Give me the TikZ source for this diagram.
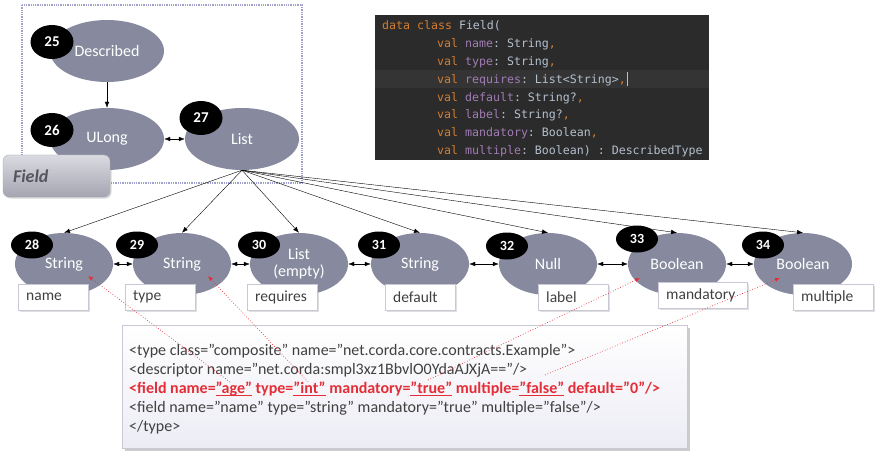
\documentclass[tikz,border=0pt]{standalone}
\usepackage{fontspec}
\setmainfont{Carlito}
\setmonofont{DejaVu Sans Mono}
\usetikzlibrary{arrows.meta,shapes.geometric,shadows,positioning}

\definecolor{nodegray}{RGB}{135,138,158}
\definecolor{boxline}{RGB}{200,200,215}
\definecolor{textgray}{RGB}{64,64,64}
\definecolor{xmlred}{RGB}{228,45,55}
\definecolor{codebg}{RGB}{43,43,43}
\definecolor{codehl}{RGB}{52,52,52}
\definecolor{kwcol}{RGB}{210,125,50}
\definecolor{propcol}{RGB}{160,124,180}
\definecolor{codetxt}{RGB}{180,192,206}
\definecolor{framecol}{RGB}{160,160,205}

\newcommand\codekw[1]{\textcolor{kwcol}{#1}}
\newcommand\codeprop[1]{\textcolor{propcol}{#1}}
\newcommand\hilite[1]{\setbox0\hbox{#1}\rlap{\rule[-3pt]{\wd0}{1.6pt}}\box0\relax}

\tikzset{
  tnode/.style={ellipse, fill=nodegray, text=white, minimum width=98pt, minimum height=62pt,
    inner sep=0pt, align=center, font=\fontsize{16}{17}\selectfont},
  topnode/.style={tnode, minimum width=114pt},
  badge/.style={ellipse, fill=black, text=white, minimum width=42pt, minimum height=27pt,
    inner sep=0pt, font=\bfseries\fontsize{14}{15}\selectfont},
  bigbadge/.style={badge, minimum width=43pt, minimum height=34pt, font=\bfseries\fontsize{15}{16}\selectfont},
  namebox/.style={draw=boxline, fill=white, text=textgray, anchor=west, minimum height=26pt,
    inner xsep=8pt, text width=54pt, align=left, font=\fontsize{15.5}{16}\selectfont,
    drop shadow={shadow xshift=1.5pt, shadow yshift=-1.5pt, opacity=0.25}},
  link/.style={-{Latex[length=6pt,width=4.5pt]}},
  twoway/.style={{Latex[length=6pt,width=4.5pt]}-{Latex[length=6pt,width=4.5pt]}},
  hint/.style={xmlred, dotted, line width=0.7pt, -{Latex[length=5pt,width=4pt]}},
  codeline/.style={anchor=base west, inner sep=0pt, text=codetxt, font=\ttfamily\fontsize{11.6}{12}\selectfont},
  xmlline/.style={anchor=base west, inner sep=0pt, text=textgray, font=\fontsize{16}{17}\selectfont}
}

\begin{document}
\begin{tikzpicture}[x=1pt, y=-1pt]
    \path[use as bounding box, fill=white] (0,0) rectangle (880,457);
    % Dotted frame round the Field type
    \draw[framecol, densely dotted, line width=1.3pt] (22,5) rectangle (302,183);
    % Top three nodes
    \node[topnode] (described) at (107,51) {Described};
    \node[topnode] (ulong) at (107,139) {ULong};
    \node[topnode] (list) at (242,139) {List};
    \node[bigbadge] (b25) at (52,42) {25};
    \node[bigbadge] (b26) at (52,130) {26};
    \node[bigbadge] (b27) at (201,118) {27};
    \draw[link] (described) -- (ulong);
    \draw[twoway] (ulong) -- (list);
    % Field tag
    \node[draw={rgb,255:red,170;green,170;blue,180}, rounded corners=6pt, top color={rgb,255:red,218;green,218;blue,225},
      bottom color={rgb,255:red,165;green,165;blue,178}, minimum width=107pt, minimum height=42pt,
      text width=87pt, align=left, text={rgb,255:red,85;green,85;blue,95},
      font=\bfseries\itshape\fontsize{18}{19}\selectfont,
      drop shadow={shadow xshift=1.5pt, shadow yshift=-1.5pt, opacity=0.3}] (fieldtag) at (56.5,176) {Field};
    % Code of the data class
    \fill[codebg] (375,15) rectangle (709,160);
    \fill[codehl] (375,70) rectangle (709,88);
    \node[codeline] (c0) at (382,30) {\codekw{data class }Field(};
    \node[codeline] (c1) at (437,47.8) {\codekw{val }\codeprop{name}: String\codekw{,}};
    \node[codeline] (c2) at (437,65.6) {\codekw{val }\codeprop{type}: String\codekw{,}};
    \node[codeline] (c3) at (437,83.4) {\codekw{val }\codeprop{requires}: List<String>\codekw{,}};
    \node[codeline] (c4) at (437,101.2) {\codekw{val }\codeprop{default}: String?\codekw{,}};
    \node[codeline] (c5) at (437,119) {\codekw{val }\codeprop{label}: String?\codekw{,}};
    \node[codeline] (c6) at (437,136.8) {\codekw{val }\codeprop{mandatory}: Boolean\codekw{,}};
    \node[codeline] (c7) at (437,154.6) {\codekw{val }\codeprop{multiple}: Boolean) : DescribedType};
    \draw[codetxt, line width=0.8pt] (c3.base east) ++(1.5,3) -- ++(0,-14);
    % Bottom row of nodes
    \foreach \n/\x/\txt in {28/64/String, 29/182/String, 30/299/{List\\(empty)}, 31/420/String,
        32/548/Null, 33/677/Boolean, 34/803/Boolean} {
        \node[tnode] (s\n) at (\x,264) {\txt};
        \draw[link] (list.south) -- (s\n.north);
    }
    \foreach \a/\b in {28/29, 29/30, 30/31, 31/32, 32/33, 33/34}
        \draw[twoway] (s\a) -- (s\b);
    \foreach \n/\x/\y in {28/32/245, 29/137/245, 30/259/245, 31/379/245, 32/507/246, 33/637/239, 34/763/245}
        \node[badge] (b\n) at (\x,\y) {\n};
    % Field names under the nodes
    \foreach \n/\x/\txt in {28/18/name, 29/125/type, 30/247/requires, 31/385/default, 32/538/label}
        \node[namebox] (l\n) at (\x,297) {\txt};
    \node[namebox, text width=73pt] (l33) at (658,295) {mandatory};
    \node[namebox, text width=64pt] (l34) at (793,297) {multiple};
    % Schema box
    \fill[black, opacity=0.2] (125,328) rectangle (690,451);
    \draw[boxline, top color=white, bottom color={rgb,255:red,236;green,236;blue,245}] (122,325) rectangle (687,448);
    \node[xmlline] (x1) at (129,355) {<type class="composite" name="net.corda.core.contracts.Example">};
    \node[xmlline] (x2) at (129,374.2) {<descriptor name="net.corda:smpl3xz1BbvlO0YdaAJXjA=="/>};
    \node[xmlline, text=xmlred, font=\bfseries\fontsize{16}{17}\selectfont] (x3) at (129,393.4)
        {<field name=\hilite{"age"} type=\hilite{"int"} mandatory=\hilite{"true"} multiple=\hilite{"false"} default="0"/>};
    \node[xmlline] (x4) at (129,412.6) {<field name="name" type="string" mandatory="true" multiple="false"/>};
    \node[xmlline] (x5) at (129,431.8) {</type>};
    % Red hints from the schema to the nodes
    \coordinate (age) at (230,382);
    \coordinate (int) at (308,382);
    \coordinate (true) at (428,380);
    \coordinate (false) at (545,375);
    \coordinate (in28) at (88,276);
    \coordinate (in29) at (208,276);
    \coordinate (in33) at (640,278);
    \coordinate (in34) at (780,278);
    \draw[hint] (age) -- (in28);
    \draw[hint] (int) -- (in29);
    \draw[hint] (true) -- (in33);
    \draw[hint] (false) -- (in34);
\end{tikzpicture}
\end{document}
